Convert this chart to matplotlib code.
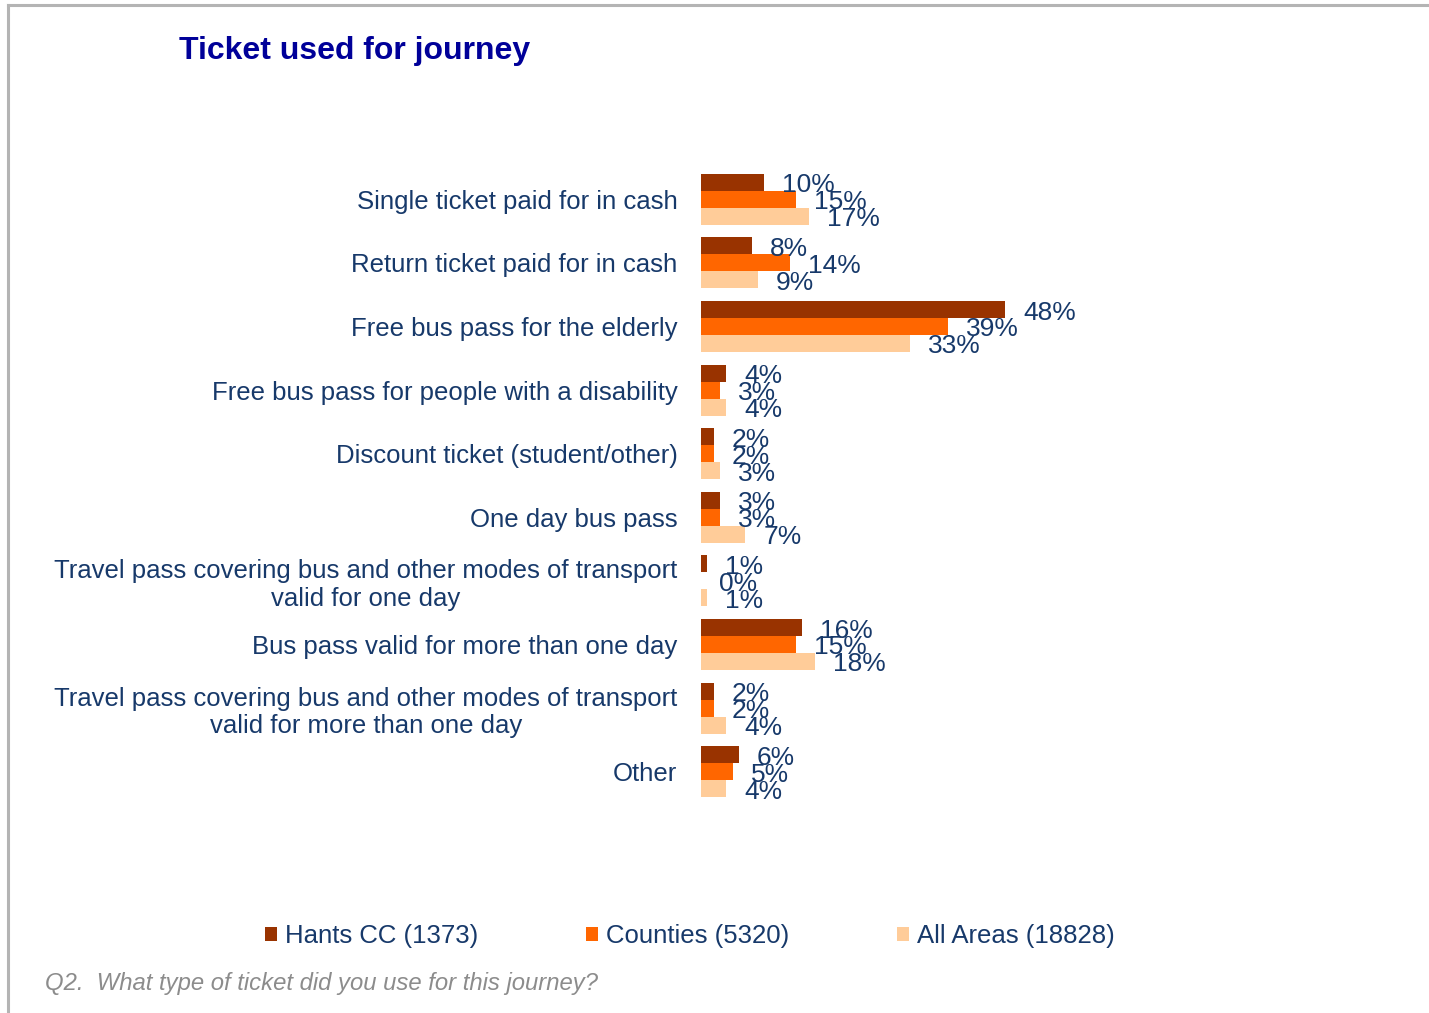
import numpy as np
import matplotlib.pyplot as plt
from matplotlib.lines import Line2D
from matplotlib.patches import Patch

plt.rcParams['font.family'] = ['Liberation Sans', 'DejaVu Sans']

# ── Data ──────────────────────────────────────────────────────────
categories = [
    "Single ticket paid for in cash",
    "Return ticket paid for in cash",
    "Free bus pass for the elderly",
    "Free bus pass for people with a disability",
    "Discount ticket (student/other)",
    "One day bus pass",
    "Travel pass covering bus and other modes of transport\nvalid for one day",
    "Bus pass valid for more than one day",
    "Travel pass covering bus and other modes of transport\nvalid for more than one day",
    "Other",
]
hants = [10, 8, 48, 4, 2, 3, 1, 16, 2, 6]
counties = [15, 14, 39, 3, 2, 3, 0, 15, 2, 5]
all_areas = [17, 9, 33, 4, 3, 7, 1, 18, 4, 4]

series_names = ["Hants CC (1373)", "Counties (5320)", "All Areas (18828)"]
series_colors = ["#993300", "#FF6600", "#FFCC99"]

TEXT = "#17396A"
W, H = 1429, 1013

fig = plt.figure(figsize=(W / 100, H / 100), dpi=100)

# axes placed so x=0 sits at pixel 701 and groups span ~168..804 px
ax = fig.add_axes([701 / W, 1 - 803.5 / H, 380 / W, 636 / H])

y = np.arange(len(categories))
h = 0.8 / 3
for i, (vals, col) in enumerate(zip([hants, counties, all_areas], series_colors)):
    pos = y + (i - 1) * h
    ax.barh(pos, vals, height=h, color=col, edgecolor="none")
    for p, v in zip(pos, vals):
        ax.annotate(f"{v}%", (v, p), xytext=(18, -3), textcoords="offset pixels",
                    ha="left", va="center", fontsize=19, color=TEXT)

ax.set_xlim(0, 60)
ax.set_ylim(len(categories) - 0.5, -0.5)
ax.set_yticks(y)
ax.set_yticklabels(categories, fontsize=18.5, color=TEXT)
for lbl in ax.get_yticklabels():
    lbl.set_multialignment("center")
ax.tick_params(axis="y", length=0, pad=17)
ax.set_xticks([])
for s in ax.spines.values():
    s.set_visible(False)

# title and footnote
fig.text(179 / W, 1 - 51 / H, "Ticket used for journey", fontsize=23,
         fontweight="bold", color="#000099", ha="left", va="center")
fig.text(45 / W, 1 - 983 / H,
         "Q2.  What type of ticket did you use for this journey?",
         fontsize=17.2, style="italic", color="#8C8C8C", ha="left", va="center")

# legend
handles = [Patch(facecolor=c, edgecolor="none") for c in series_colors]
fig.legend(handles, series_names, loc="center", ncol=3,
           bbox_to_anchor=(690 / W, 1 - 936 / H), frameon=False,
           fontsize=18.5, labelcolor=TEXT, handlelength=0.47,
           handleheight=0.47, handletextpad=0.3, columnspacing=4.2)

# grey frame on top and left edges
fig.add_artist(Line2D([8 / W, 1], [1 - 5 / H, 1 - 5 / H],
                      transform=fig.transFigure, color="#B4B4B4", lw=2.2))
fig.add_artist(Line2D([8 / W, 8 / W], [0, 1 - 5 / H],
                      transform=fig.transFigure, color="#B4B4B4", lw=2.2))

fig.savefig("out.png", dpi=100)
